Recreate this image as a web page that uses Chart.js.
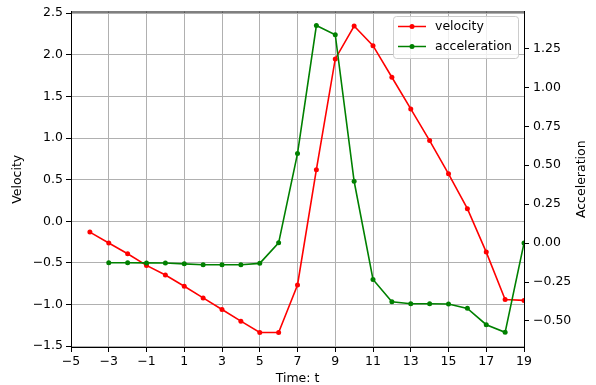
<!DOCTYPE html>
<html>
<head>
<meta charset="utf-8">
<script src="https://cdn.jsdelivr.net/npm/chart.js@4.4.0/dist/chart.umd.min.js"></script>
<style>
html, body { margin: 0; padding: 0; background: #fff; }
</style>
</head>
<body>
<canvas id="grafico" width="596" height="385"></canvas>
<script>
// datos
const tiempoVel = [-4, -3, -2, -1, 0, 1, 2, 3, 4, 5, 6, 7, 8, 9, 10, 11, 12, 13, 14, 15, 16, 17, 18, 19];
const velocidad = [-0.13, -0.26, -0.39, -0.53, -0.645, -0.78, -0.92, -1.06, -1.20, -1.336, -1.336, -0.765,
    0.62, 1.95, 2.345, 2.11, 1.73, 1.35, 0.97, 0.57, 0.152, -0.37, -0.94, -0.95];

const tiempoAcc = [-3, -2, -1, 0, 1, 2, 3, 4, 5, 6, 7, 8, 9, 10, 11, 12, 13, 14, 15, 16, 17, 18, 19];
const aceleracion = [-0.126, -0.126, -0.127, -0.128, -0.133, -0.139, -0.139, -0.139, -0.13, 0.002, 0.575,
    1.397, 1.338, 0.397, -0.233, -0.376, -0.389, -0.389, -0.391, -0.419, -0.524, -0.573, 0.0];

const ticksX = [-5, -3, -1, 1, 3, 5, 7, 9, 11, 13, 15, 17, 19];
const ticksVel = [-1.5, -1.0, -0.5, 0.0, 0.5, 1.0, 1.5, 2.0, 2.5];
const ticksAcc = [-0.5, -0.25, 0.0, 0.25, 0.5, 0.75, 1.0, 1.25];

const fuente = { family: 'DejaVu Sans', size: 12.5 };
const gris = '#b0b0b0';

// signo menos tipografico como en matplotlib
function menos(txt) {
    return txt.replace('-', '\u2212');
}

// titulos de ejes, leyenda y borde superior
const extras = {
    id: 'extras',
    afterDraw(chart) {
        const ctx = chart.ctx;
        const area = chart.chartArea;
        ctx.save();

        // borde superior
        ctx.strokeStyle = '#000';
        ctx.lineWidth = 1;
        ctx.beginPath();
        ctx.moveTo(area.left, area.top + 0.5);
        ctx.lineTo(area.right, area.top + 0.5);
        ctx.stroke();

        ctx.fillStyle = '#000';
        ctx.font = '12.5px "DejaVu Sans"';
        ctx.textAlign = 'center';
        ctx.textBaseline = 'middle';
        ctx.fillText('Time: t', (area.left + area.right) / 2, 379);

        const medio = (area.top + area.bottom) / 2;
        ctx.save();
        ctx.translate(18, medio);
        ctx.rotate(-Math.PI / 2);
        ctx.fillText('Velocity', 0, 0);
        ctx.restore();

        ctx.save();
        ctx.translate(582, medio);
        ctx.rotate(-Math.PI / 2);
        ctx.fillText('Acceleration', 0, 0);
        ctx.restore();

        // leyenda
        ctx.beginPath();
        ctx.roundRect(393.5, 16.5, 125, 42, 3);
        ctx.fillStyle = 'rgba(255,255,255,0.8)';
        ctx.fill();
        ctx.strokeStyle = '#cccccc';
        ctx.stroke();

        const filas = [
            { texto: 'velocity', color: '#ff0000', y: 26.5 },
            { texto: 'acceleration', color: '#008000', y: 46.5 }
        ];
        filas.forEach(function (f) {
            ctx.strokeStyle = f.color;
            ctx.lineWidth = 1.5;
            ctx.beginPath();
            ctx.moveTo(398, f.y);
            ctx.lineTo(426, f.y);
            ctx.stroke();
            ctx.fillStyle = f.color;
            ctx.beginPath();
            ctx.arc(412, f.y, 2.5, 0, Math.PI * 2);
            ctx.fill();
            ctx.fillStyle = '#000';
            ctx.textAlign = 'left';
            ctx.fillText(f.texto, 435, f.y);
        });

        ctx.restore();
    }
};

new Chart(document.getElementById('grafico'), {
    type: 'line',
    data: {
        datasets: [{
            label: 'velocity',
            data: tiempoVel.map((t, i) => ({ x: t, y: velocidad[i] })),
            borderColor: '#ff0000',
            backgroundColor: '#ff0000',
            borderWidth: 1.6,
            pointRadius: 2.5,
            pointBorderWidth: 0,
            yAxisID: 'y',
            order: 1
        }, {
            label: 'acceleration',
            data: tiempoAcc.map((t, i) => ({ x: t, y: aceleracion[i] })),
            borderColor: '#008000',
            backgroundColor: '#008000',
            borderWidth: 1.6,
            pointRadius: 2.5,
            pointBorderWidth: 0,
            yAxisID: 'y1',
            order: 0
        }]
    },
    options: {
        responsive: false,
        animation: false,
        layout: { padding: { top: 11, left: 0, right: 0, bottom: 0 } },
        plugins: {
            legend: { display: false },
            tooltip: { enabled: false }
        },
        scales: {
            x: {
                type: 'linear',
                position: 'bottom',
                min: -5,
                max: 19,
                afterBuildTicks: s => { s.ticks = ticksX.map(v => ({ value: v })); },
                afterFit: s => { s.height = 38; },
                grid: { color: gris, lineWidth: 1, tickColor: '#000', tickLength: 5 },
                border: { color: '#000', width: 1 },
                ticks: {
                    color: '#000', font: fuente, padding: 2, maxRotation: 0, autoSkip: false,
                    callback: v => menos(String(v))
                }
            },
            y: {
                type: 'linear',
                position: 'left',
                min: -1.51,
                max: 2.52,
                afterBuildTicks: s => { s.ticks = ticksVel.map(v => ({ value: v })); },
                afterFit: s => { s.width = 71; },
                grid: { color: gris, lineWidth: 1, tickColor: '#000', tickLength: 5 },
                border: { color: '#000', width: 1 },
                ticks: {
                    color: '#000', font: fuente, padding: 3,
                    callback: v => menos(v.toFixed(1))
                }
            },
            y1: {
                type: 'linear',
                position: 'right',
                min: -0.667,
                max: 1.487,
                afterBuildTicks: s => { s.ticks = ticksAcc.map(v => ({ value: v })); },
                afterFit: s => { s.width = 72; },
                grid: { drawOnChartArea: false, tickColor: '#000', tickLength: 5 },
                border: { color: '#000', width: 1 },
                ticks: {
                    color: '#000', font: fuente, padding: 4,
                    callback: v => menos(v.toFixed(2))
                }
            }
        }
    },
    plugins: [extras]
});
</script>
</body>
</html>
